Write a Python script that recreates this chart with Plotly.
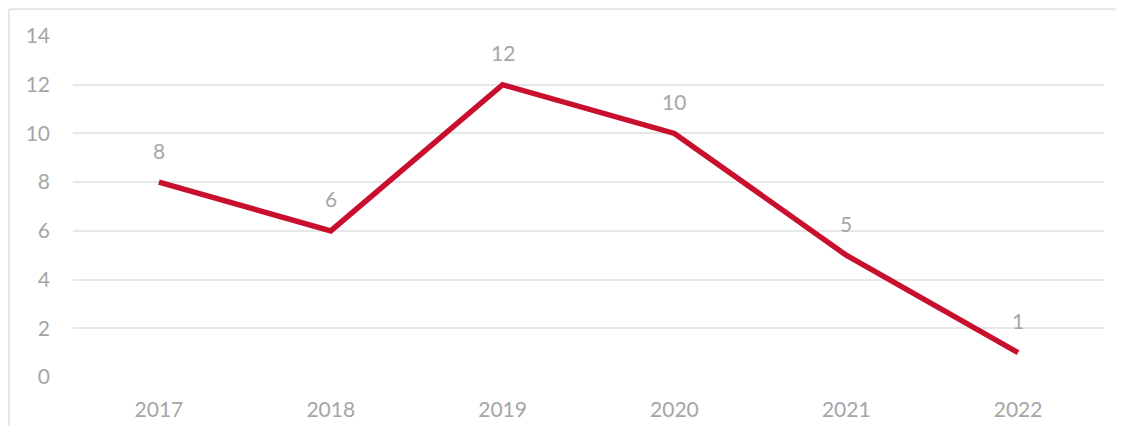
import plotly.graph_objects as go

years = ["2017", "2018", "2019", "2020", "2021", "2022"]
values = [8, 6, 12, 10, 5, 1]
y_ticks = [0, 2, 4, 6, 8, 10, 12, 14]

font_family = "Lato, Open Sans, sans-serif"
label_color = "#A6A6A6"
fsize = 21

fig = go.Figure()
fig.add_trace(go.Scatter(
    x=years, y=values, mode="lines",
    line=dict(color="#C8102E", width=5.5),
    hoverinfo="skip",
))

for i, v in enumerate(values):
    fig.add_annotation(x=i, y=v, text=str(v), showarrow=False, yshift=32,
                       font=dict(size=fsize, color=label_color, family=font_family))

# chart-area border: only its left and top edges fall inside the picture
border = dict(color="#D9D9D9", width=1.2)
fig.add_shape(type="line", xref="paper", yref="paper",
              x0=-0.0621, x1=-0.0621, y0=-0.3, y1=1.079, line=border, layer="below")
fig.add_shape(type="line", xref="paper", yref="paper",
              x0=-0.0621, x1=1.1, y0=1.079, y1=1.079, line=border, layer="below")

fig.update_layout(
    width=1108, height=418,
    margin=dict(l=65, r=12, t=28, b=49, autoexpand=False),
    paper_bgcolor="white", plot_bgcolor="white",
    showlegend=False,
    font=dict(family=font_family, size=fsize, color=label_color),
    xaxis=dict(type="category", range=[-0.5, 5.5], showgrid=False, zeroline=False,
               showline=False, ticks="", ticklabelstandoff=18, automargin=False,
               tickfont=dict(size=fsize, color=label_color)),
    yaxis=dict(range=[0, 14], tickvals=y_ticks, showgrid=True, gridcolor="#E8E8E8",
               gridwidth=1.5, zeroline=False, showline=False, ticks="", automargin=False,
               ticklabelstandoff=22, tickfont=dict(size=fsize, color=label_color)),
)

fig.write_html("out.html")
